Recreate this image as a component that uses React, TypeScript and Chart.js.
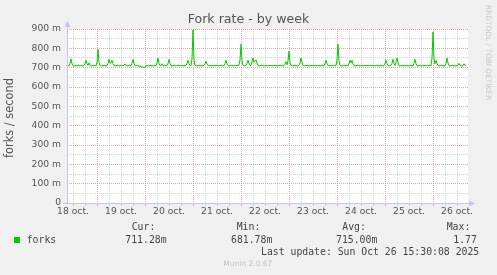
import React, { useEffect, useRef } from 'react';
import { Chart, registerables } from 'chart.js';

Chart.register(...registerables);

// Time axis, in hours after 18 oct. 00:00; one sample every half hour
const START_HOUR = 9;
const STEP_HOURS = 0.5;
const END_HOUR = 209.5;

// Fork rate (milli-forks / second), half-hourly averages
const forkRate: number[] = [
  710, 711, 709, 722, 745, 720, 710, 708, 711, 712, 709, 710, 713, 708, 711, 710, 709, 712, 721, 738,
  720, 712, 725, 713, 710, 709, 711, 710, 712, 709, 730, 795, 728, 711, 710, 709, 712, 710, 711, 709,
  710, 722, 743, 724, 725, 738, 721, 711, 709, 710, 712, 711, 709, 710, 711, 712, 709, 713, 720, 711,
  710, 709, 711, 712, 710, 722, 743, 721, 710, 709, 711, 710, 708, 709, 706, 702, 706, 700, 704, 709,
  711, 710, 709, 712, 710, 711, 709, 710, 712, 710, 724, 750, 722, 711, 710, 720, 711, 709, 712, 710,
  711, 722, 743, 721, 710, 709, 711, 712, 710, 709, 711, 710, 712, 709, 710, 711, 710, 709, 712, 711,
  722, 738, 720, 711, 710, 745, 895, 740, 712, 710, 709, 711, 710, 712, 709, 711, 710, 712, 720, 733,
  719, 711, 710, 709, 712, 710, 711, 709, 710, 712, 711, 709, 710, 711, 712, 709, 710, 711, 721, 738,
  720, 711, 710, 709, 712, 710, 711, 709, 710, 712, 711, 709, 713, 740, 821, 735, 712, 710, 709, 711,
  722, 738, 720, 711, 712, 729, 750, 728, 735, 740, 722, 711, 710, 709, 712, 710, 711, 709, 710, 712,
  711, 709, 710, 712, 710, 711, 709, 710, 712, 711, 709, 710, 711, 712, 710, 709, 711, 710, 718, 731,
  715, 735, 786, 725, 711, 710, 709, 712, 710, 711, 709, 710, 712, 724, 750, 728, 711, 710, 709, 712,
  710, 711, 709, 710, 712, 711, 709, 710, 711, 712, 709, 710, 711, 710, 709, 712, 711, 710, 722, 738,
  720, 711, 710, 709, 712, 710, 711, 709, 710, 711, 740, 821, 735, 712, 710, 709, 711, 710, 712, 711,
  711, 710, 722, 738, 725, 738, 720, 711, 710, 709, 712, 710, 711, 709, 710, 712, 711, 709, 710, 711,
  710, 712, 709, 711, 710, 712, 711, 709, 710, 711, 712, 709, 710, 711, 712, 709, 710, 711, 722, 738,
  721, 711, 710, 709, 712, 722, 744, 722, 711, 728, 750, 726, 711, 710, 709, 712, 711, 710, 709, 712,
  710, 711, 709, 710, 712, 711, 710, 722, 743, 721, 710, 709, 711, 712, 710, 709, 711, 710, 712, 711,
  710, 709, 711, 712, 710, 750, 885, 745, 720, 738, 721, 711, 710, 709, 712, 710, 711, 709, 710, 722,
  750, 724, 711, 710, 709, 712, 710, 711, 709, 710, 712, 711, 722, 711, 710, 709, 711, 720, 712, 711,
];

const dayLabels = ['18 oct.', '19 oct.', '20 oct.', '21 oct.', '22 oct.', '23 oct.', '24 oct.', '25 oct.', '26 oct.'];
const yTickLabels = ['0', '100 m', '200 m', '300 m', '400 m', '500 m', '600 m', '700 m', '800 m', '900 m'];

const seriesName = 'forks';
const legendHeaders = ['Cur:', 'Min:', 'Avg:', 'Max:'];
const legendValues = ['711.28m', '681.78m', '715.00m', '1.77'];
const lastUpdate = 'Last update: Sun Oct 26 15:30:08 2025';
const titleText = 'Fork rate - by week';
const yTitle = 'forks / second';

const GREEN = '#00cc00';
const RED_GRID = 'rgba(238,140,140,0.8)';
const GRAY_GRID = 'rgba(200,200,200,0.8)';
const AXIS = '#c4c4f0';

const muninPlugin = {
  id: 'munin',
  beforeDraw(chart: any) {
    const { ctx, chartArea: a } = chart;
    ctx.save();
    ctx.fillStyle = '#ffffff';
    ctx.fillRect(a.left, a.top, a.right - a.left, a.bottom - a.top);
    ctx.restore();
  },
  afterDraw(chart: any) {
    const { ctx, chartArea: a } = chart;
    ctx.save();
    ctx.strokeStyle = AXIS;
    ctx.fillStyle = AXIS;
    ctx.lineWidth = 1;
    const lx = Math.round(a.left) + 0.5;
    const by = Math.round(a.bottom) + 0.5;
    ctx.beginPath();
    ctx.moveTo(lx, by);
    ctx.lineTo(lx, a.top - 4);
    ctx.moveTo(a.left - 4, by);
    ctx.lineTo(a.right + 2, by);
    ctx.stroke();
    // arrows
    ctx.beginPath();
    ctx.moveTo(lx, a.top - 8);
    ctx.lineTo(lx - 3, a.top - 2);
    ctx.lineTo(lx + 3, a.top - 2);
    ctx.closePath();
    ctx.fill();
    ctx.beginPath();
    ctx.moveTo(a.right + 7, by);
    ctx.lineTo(a.right + 1, by - 3);
    ctx.lineTo(a.right + 1, by + 3);
    ctx.closePath();
    ctx.fill();
    ctx.restore();
  },
};

function T(props: { x: number; y: number; size: number; text: string; mono?: boolean; color?: string }) {
  const { x, y, size, text, mono, color } = props;
  return (
    <div
      style={{
        position: 'absolute',
        left: x,
        top: y - size / 2,
        fontSize: size,
        lineHeight: `${size}px`,
        whiteSpace: 'nowrap',
        fontFamily: mono ? '"DejaVu Sans Mono", monospace' : '"DejaVu Sans", sans-serif',
        color: color || '#444',
      }}
    >
      {text}
    </div>
  );
}

export default function App() {
  const canvasRef = useRef<HTMLCanvasElement | null>(null);

  useEffect(() => {
    const canvas = canvasRef.current;
    if (!canvas) return;
    const points = forkRate.map((v, i) => ({ x: START_HOUR + i * STEP_HOURS, y: v }));
    const xTicks: number[] = [];
    for (let h = 12; h <= END_HOUR; h += 6) xTicks.push(h);
    const yTicks: number[] = [];
    for (let v = 0; v <= 900; v += 50) yTicks.push(v);

    const chart = new Chart(canvas, {
      type: 'line',
      data: {
        datasets: [
          {
            label: seriesName,
            data: points,
            borderColor: GREEN,
            backgroundColor: GREEN,
            borderWidth: 1,
            pointRadius: 0,
            tension: 0,
            fill: false,
          },
        ],
      },
      options: {
        animation: false,
        responsive: false,
        maintainAspectRatio: false,
        devicePixelRatio: 1,
        layout: { padding: { top: 29, right: 29, bottom: 52, left: 0 } },
        plugins: {
          legend: { display: false },
          tooltip: { enabled: false },
          title: { display: false },
        },
        scales: {
          x: {
            type: 'linear',
            min: START_HOUR,
            max: END_HOUR,
            afterBuildTicks: (s: any) => {
              s.ticks = xTicks.map((v) => ({ value: v }));
            },
            afterFit: (s: any) => {
              s.height = 20;
            },
            border: { display: false, dash: [1, 1] },
            grid: {
              color: (c: any) => (c.tick && c.tick.value % 24 === 0 ? RED_GRID : GRAY_GRID),
              tickColor: (c: any) => (c.tick && c.tick.value % 24 === 0 ? RED_GRID : GRAY_GRID),
              lineWidth: 1,
              drawTicks: true,
              tickLength: 3,
              tickBorderDash: [],
            },
            ticks: {
              autoSkip: false,
              maxRotation: 0,
              minRotation: 0,
              padding: 0,
              color: '#555',
              font: { family: '"DejaVu Sans", sans-serif', size: 9.2 },
              callback: (v: any) => (v % 24 === 12 ? dayLabels[(v - 12) / 24] : ''),
            },
          },
          y: {
            type: 'linear',
            min: 0,
            max: 900,
            afterBuildTicks: (s: any) => {
              s.ticks = yTicks.map((v) => ({ value: v }));
            },
            afterFit: (s: any) => {
              s.width = 67;
            },
            border: { display: false, dash: [1, 1] },
            grid: {
              color: (c: any) =>
                c.tick && c.tick.value === 0
                  ? 'rgba(0,0,0,0)'
                  : c.tick && c.tick.value % 100 === 0
                  ? RED_GRID
                  : GRAY_GRID,
              lineWidth: 1,
              drawTicks: false,
            },
            ticks: {
              autoSkip: false,
              padding: 6,
              color: '#555',
              font: { family: '"DejaVu Sans", sans-serif', size: 9.2 },
              callback: (v: any) => (v % 100 === 0 ? yTickLabels[v / 100] : ''),
            },
          },
        },
      },
      plugins: [muninPlugin],
    } as any);

    return () => chart.destroy();
  }, []);

  const headerX = [131.7, 236.7, 342.3, 446.7];
  const valueX = [125.3, 231, 336, 453.3];

  return (
    <div
      style={{
        position: 'fixed',
        left: 0,
        top: 0,
        width: 497,
        height: 275,
        background: '#f0f0f0',
        overflow: 'hidden',
      }}
    >
      <canvas
        ref={canvasRef}
        width={497}
        height={275}
        style={{ position: 'absolute', left: 0, top: 0, width: 497, height: 275 }}
      />
      <div
        style={{
          position: 'absolute',
          left: 0,
          top: 19 - 6.3,
          width: 497,
          textAlign: 'center',
          fontSize: 12.6,
          lineHeight: '12.6px',
          fontFamily: '"DejaVu Sans", sans-serif',
          color: '#555',
          whiteSpace: 'nowrap',
        }}
      >
        {titleText}
      </div>
      <div
        style={{
          position: 'absolute',
          left: 10,
          top: 118,
          transform: 'translate(-50%, -50%) rotate(-90deg)',
          fontSize: 11.4,
          lineHeight: '11.4px',
          fontFamily: '"DejaVu Sans", sans-serif',
          color: '#555',
          whiteSpace: 'nowrap',
        }}
      >
        {yTitle}
      </div>
      <div
        style={{
          position: 'absolute',
          left: 488 - 3.7,
          top: 5,
          writingMode: 'vertical-rl',
          fontSize: 7.4,
          lineHeight: '7.4px',
          fontFamily: '"DejaVu Sans", sans-serif',
          color: '#c8c8c8',
          whiteSpace: 'nowrap',
        }}
      >
        RRDTOOL / TOBI OETIKER
      </div>
      <div style={{ position: 'absolute', left: 14, top: 237, width: 6, height: 6, background: GREEN }} />
      <T x={26.7} y={239.7} size={9.8} mono text={seriesName} />
      {legendHeaders.map((h, i) => (
        <T key={'h' + i} x={headerX[i]} y={227.3} size={9.8} mono text={h} />
      ))}
      {legendValues.map((v, i) => (
        <T key={'v' + i} x={valueX[i]} y={239.7} size={9.8} mono text={v} />
      ))}
      <T x={261} y={251.7} size={9.8} mono text={lastUpdate} />
      <T x={223.3} y={264} size={7.5} text="Munin 2.0.67" color="#c4c4c4" />
    </div>
  );
}
